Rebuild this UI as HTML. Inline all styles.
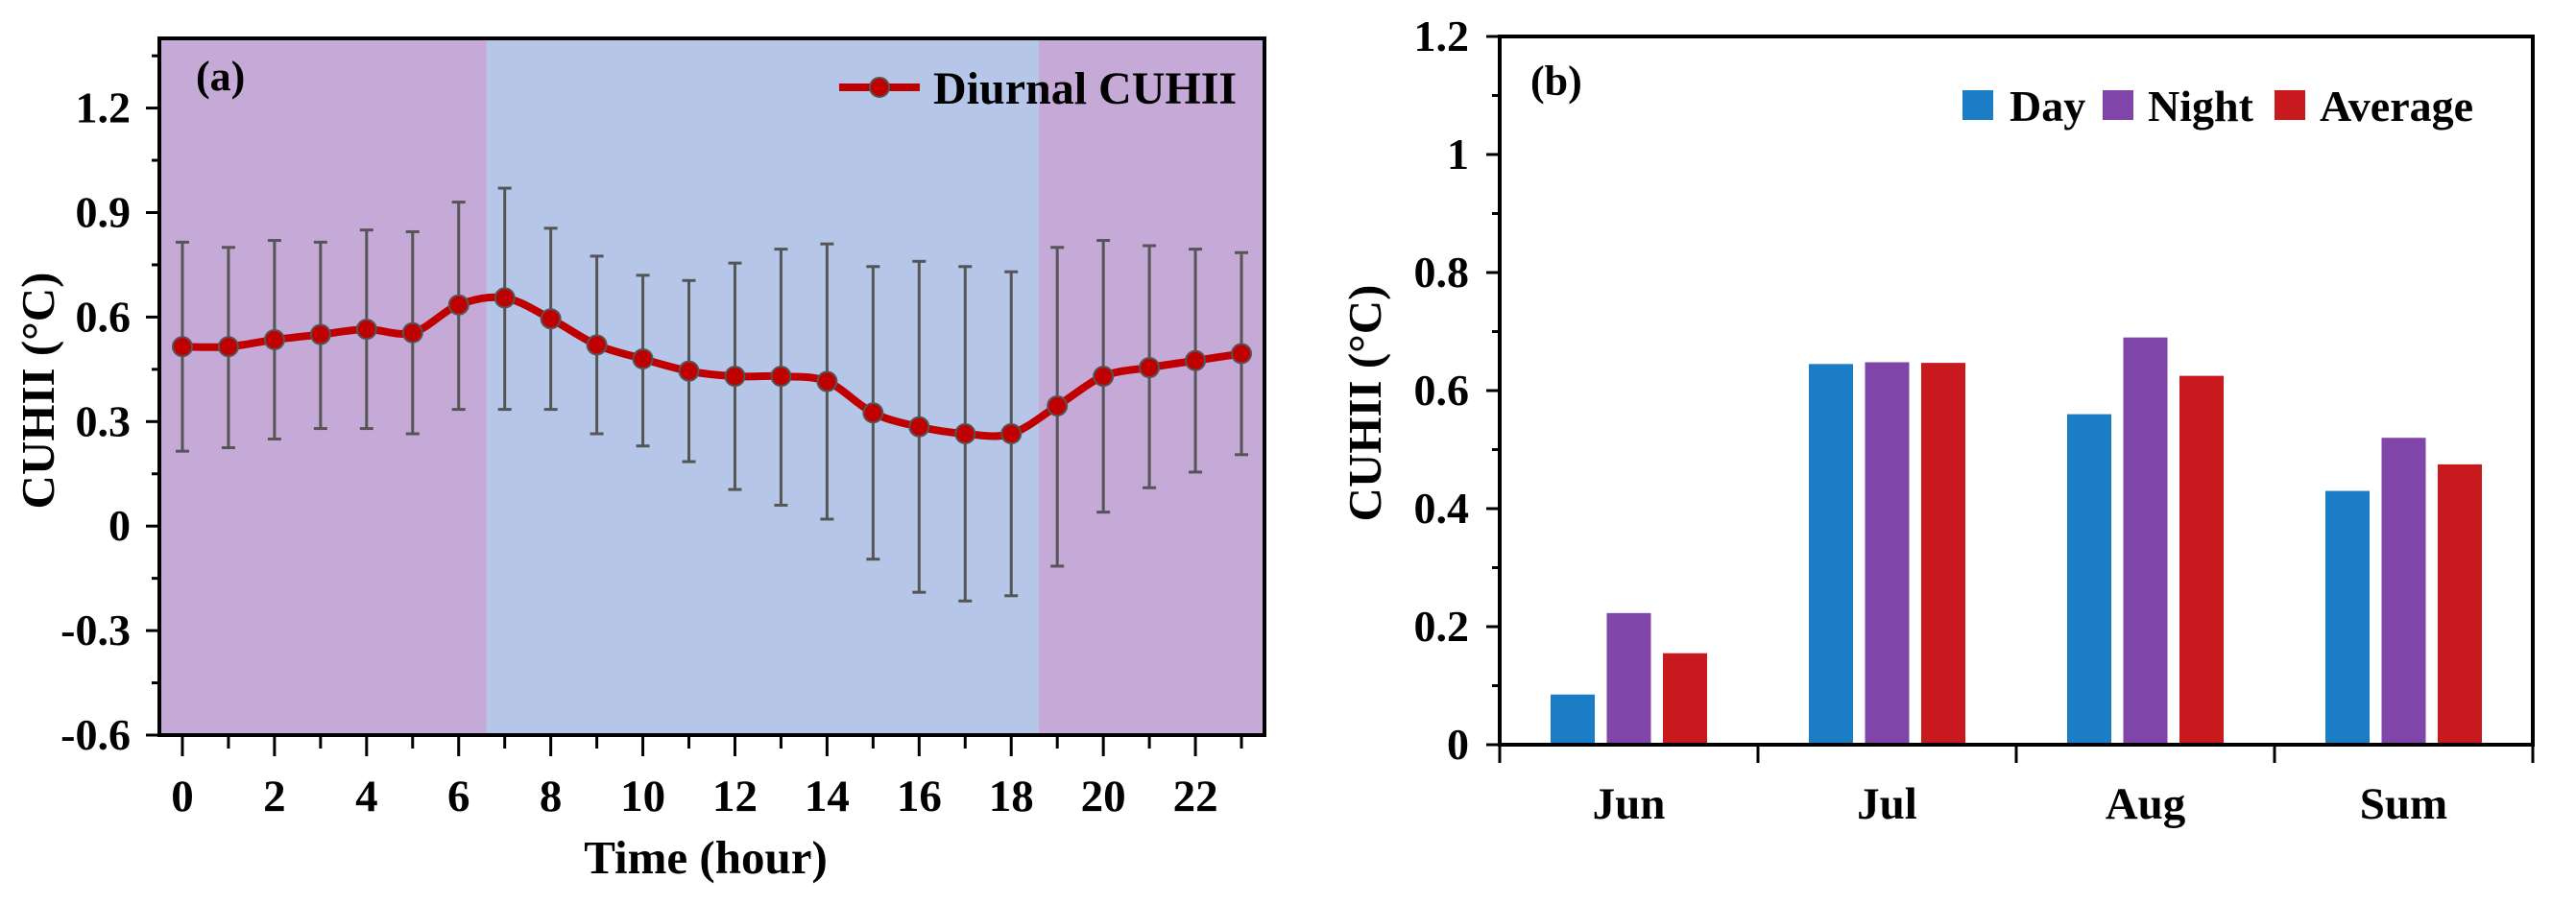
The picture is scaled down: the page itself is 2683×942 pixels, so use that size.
<!DOCTYPE html>
<html><head><meta charset="utf-8"><style>
html,body{margin:0;padding:0;background:#fff;}
svg{display:block;font-family:"Liberation Serif",serif;font-weight:bold;}
</style></head><body>
<svg id="fig" width="2683" height="942" viewBox="0 0 2683 942" xmlns="http://www.w3.org/2000/svg"></svg>
<script>
const hours = [0,1,2,3,4,5,6,7,8,9,10,11,12,13,14,15,16,17,18,19,20,21,22,23];
const cuhii = [0.515,0.515,0.535,0.55,0.565,0.555,0.635,0.655,0.595,0.52,0.48,0.445,0.43,0.43,0.415,0.325,0.285,0.265,0.265,0.345,0.43,0.455,0.475,0.495];
const errTop = [0.815,0.80,0.82,0.815,0.85,0.845,0.93,0.97,0.855,0.775,0.72,0.705,0.755,0.795,0.81,0.745,0.76,0.745,0.73,0.80,0.82,0.805,0.795,0.785];
const errBot = [0.215,0.225,0.25,0.28,0.28,0.265,0.335,0.335,0.335,0.265,0.23,0.185,0.105,0.06,0.02,-0.095,-0.19,-0.215,-0.2,-0.115,0.04,0.11,0.155,0.205];
const yTicksA = [-0.6,-0.3,0,0.3,0.6,0.9,1.2];
const yTickLabelsA = ["-0.6","-0.3","0","0.3","0.6","0.9","1.2"];
const xTicksA = [0,2,4,6,8,10,12,14,16,18,20,22];
const dayStart = 6.6, dayEnd = 18.6;

const months = ["Jun","Jul","Aug","Sum"];
const dayVals = [0.085,0.645,0.56,0.43];
const nightVals = [0.223,0.648,0.69,0.52];
const avgVals = [0.155,0.647,0.625,0.475];
const yTicksB = [0,0.2,0.4,0.6,0.8,1,1.2];
const yTickLabelsB = ["0","0.2","0.4","0.6","0.8","1","1.2"];

const NS="http://www.w3.org/2000/svg";
const svg=document.getElementById('fig');
function mk(tag,attrs,parent,text){const e=document.createElementNS(NS,tag);for(const k in attrs)e.setAttribute(k,attrs[k]);if(text!==undefined)e.textContent=text;(parent||svg).appendChild(e);return e;}

// ---------- Chart A ----------
const A={l:166,r:1317,t:40,b:766,xmin:-0.5,xmax:23.5,ymin:-0.6,ymax:1.4};
const ax=v=>A.l+(v-A.xmin)/(A.xmax-A.xmin)*(A.r-A.l);
const ay=v=>A.b-(v-A.ymin)/(A.ymax-A.ymin)*(A.b-A.t);
const gA=mk('g',{});


let e;
e=mk('rect',{x:A.l,y:A.t,width:ax(dayStart)-A.l,height:A.b-A.t,fill:'#c5aad8'},gA);

e=mk('rect',{x:ax(dayStart),y:A.t,width:ax(dayEnd)-ax(dayStart),height:A.b-A.t,fill:'#b5c6e8'},gA);

e=mk('rect',{x:ax(dayEnd),y:A.t,width:A.r-ax(dayEnd),height:A.b-A.t,fill:'#c5aad8'},gA);

hours.forEach((h,i)=>{
  const g=mk('g',{stroke:'#555',"stroke-width":3},gA);
  
  
  const x=ax(h);
  mk('line',{x1:x,x2:x,y1:ay(errTop[i]),y2:ay(errBot[i])},g);
  mk('line',{x1:x-7,x2:x+7,y1:ay(errTop[i]),y2:ay(errTop[i])},g);
  mk('line',{x1:x-7,x2:x+7,y1:ay(errBot[i]),y2:ay(errBot[i])},g);
});
const pts=hours.map((h,i)=>[ax(h),ay(cuhii[i])]);
let d=`M${pts[0][0]},${pts[0][1]}`;
for(let i=0;i<pts.length-1;i++){
  const p0=pts[Math.max(0,i-1)],p1=pts[i],p2=pts[i+1],p3=pts[Math.min(pts.length-1,i+2)];
  const c1=[p1[0]+(p2[0]-p0[0])/6,p1[1]+(p2[1]-p0[1])/6];
  const c2=[p2[0]-(p3[0]-p1[0])/6,p2[1]-(p3[1]-p1[1])/6];
  d+=` C${c1[0]},${c1[1]} ${c2[0]},${c2[1]} ${p2[0]},${p2[1]}`;
}
e=mk('path',{d:d,fill:'none',stroke:'#c00000',"stroke-width":8},gA);

pts.forEach(p=>{
  const c=mk('circle',{cx:p[0],cy:p[1],r:10,fill:'#c00000',stroke:'#555',"stroke-width":2},gA);
  
  
});
e=mk('rect',{x:A.l,y:A.t,width:A.r-A.l,height:A.b-A.t,fill:'none',stroke:'#000',"stroke-width":4},gA);

for(let v=-0.6;v<=1.401;v+=0.15){
  const major=Math.abs(Math.round(v/0.3)*0.3-v)<1e-6;
  const t=mk('line',{x1:A.l,x2:A.l-(major?14:8),y1:ay(v),y2:ay(v),stroke:'#000',"stroke-width":3},gA);
  
}
yTicksA.forEach((v,i)=>{
  const t=mk('text',{x:136,y:ay(v)+15,"text-anchor":'end',"font-size":46},gA,yTickLabelsA[i]);
  
});
hours.forEach(h=>{
  const major=h%2===0;
  const t=mk('line',{x1:ax(h),x2:ax(h),y1:A.b,y2:A.b+(major?22:14),stroke:'#000',"stroke-width":3},gA);
  
});
xTicksA.forEach(h=>{
  const t=mk('text',{x:ax(h),y:845,"text-anchor":'middle',"font-size":47},gA,String(h));
  
});
e=mk('text',{x:735,y:910,"text-anchor":'middle',"font-size":49},gA,'Time (hour)');

e=mk('text',{x:0,y:0,"text-anchor":'middle',"font-size":49,transform:'translate(56,407) rotate(-90)'},gA,'CUHII (°C)');

e=mk('text',{x:204,y:94,"font-size":44},gA,'(a)');

const lgA=mk('g',{},gA);

mk('line',{x1:874,x2:958,y1:91,y2:91,stroke:'#c00000',"stroke-width":8},lgA);
mk('circle',{cx:916,cy:91,r:10,fill:'#c00000',stroke:'#555',"stroke-width":2},lgA);
mk('text',{x:972,y:108,"font-size":48},lgA,'Diurnal CUHII');

// ---------- Chart B ----------
const B={l:1562,r:2638,t:38,b:776,ymax:1.2};
const bw=(B.r-B.l)/months.length;
const by=v=>B.b-v/B.ymax*(B.b-B.t);
const gB=mk('g',{});


const series=[[dayVals,'#1b7dc6','day'],[nightVals,'#7f45a8','night'],[avgVals,'#c8191e','average']];
months.forEach((m,i)=>{
  const cx=B.l+bw*(i+0.5);
  series.forEach((s,j)=>{
    const x=cx+(j-1)*58.5-23;
    const r=mk('rect',{x:x,y:by(s[0][i]),width:46,height:B.b-by(s[0][i]),fill:s[1]},gB);
    
    
  });
  const t=mk('text',{x:cx,y:853,"text-anchor":'middle',"font-size":47},gB,m);
  
});
e=mk('rect',{x:B.l,y:B.t,width:B.r-B.l,height:B.b-B.t,fill:'none',stroke:'#000',"stroke-width":4},gB);

for(let k=0;k<=months.length;k++){
  const x=B.l+bw*k;
  const t=mk('line',{x1:x,x2:x,y1:B.b,y2:B.b+19,stroke:'#000',"stroke-width":3},gB);
  
}
for(let v=0;v<=1.201;v+=0.1){
  const major=Math.abs(Math.round(v/0.2)*0.2-v)<1e-6;
  const t=mk('line',{x1:B.l,x2:B.l-(major?14:8),y1:by(v),y2:by(v),stroke:'#000',"stroke-width":3},gB);
  
}
yTicksB.forEach((v,i)=>{
  const t=mk('text',{x:1530,y:by(v)+15,"text-anchor":'end',"font-size":46},gB,yTickLabelsB[i]);
  
});
e=mk('text',{x:0,y:0,"text-anchor":'middle',"font-size":49,transform:'translate(1438,420) rotate(-90)'},gB,'CUHII (°C)');

e=mk('text',{x:1594,y:99,"font-size":44},gB,'(b)');

const leg=[[2044,2093,'Day','#1b7dc6'],[2190,2237,'Night','#7f45a8'],[2369,2416,'Average','#c8191e']];
leg.forEach(l=>{
  const g=mk('g',{},gB);
  
  
  mk('rect',{x:l[0],y:94,width:32,height:31,fill:l[3]},g);
  mk('text',{x:l[1],y:126,"font-size":46},g,l[2]);
});
</script>
</body></html>
